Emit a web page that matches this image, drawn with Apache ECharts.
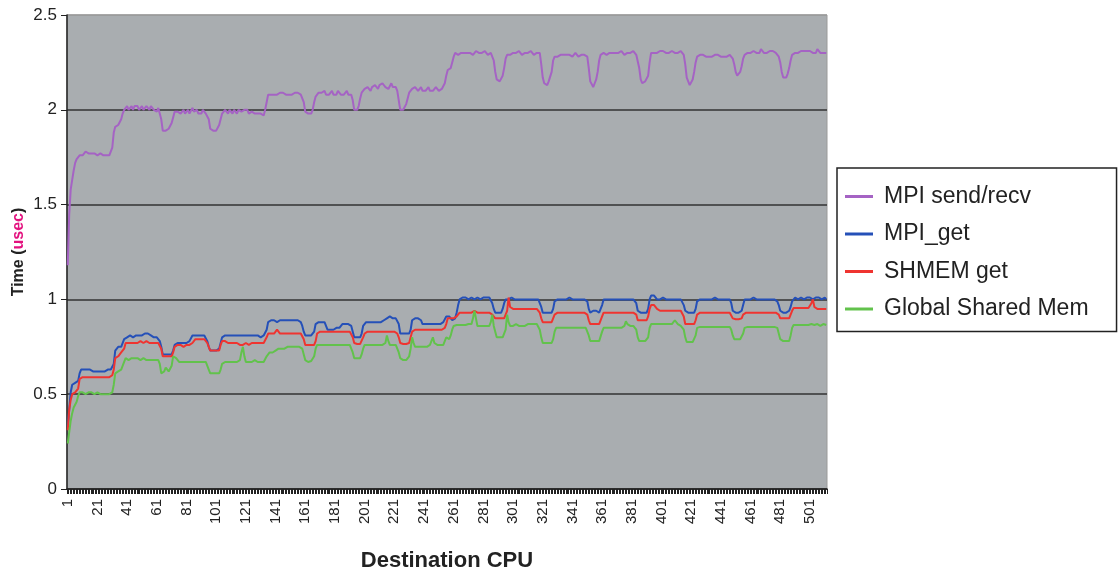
<!DOCTYPE html>
<html>
<head>
<meta charset="utf-8">
<script src="https://cdn.jsdelivr.net/npm/echarts@6/dist/echarts.min.js"></script>
<style>
html,body{margin:0;padding:0;background:#fff;}
#chart{width:1119px;height:571px;}
</style>
</head>
<body>
<div id="chart"></div>
<script>
// Destination CPU numbers 1..512
const cpus = Array.from({length: 512}, (_, i) => String(i + 1));

const seriesNames = ['MPI send/recv', 'MPI_get', 'SHMEM get', 'Global Shared Mem'];

const mpiSendRecv = [
1.18,1.45,1.58,1.63,1.68,1.72,1.74,1.75,1.76,1.77,1.76,1.77,1.78,1.79,1.77,1.76,
1.77,1.76,1.77,1.77,1.76,1.76,1.77,1.76,1.76,1.77,1.76,1.76,1.76,1.77,1.80,1.88,
1.91,1.92,1.92,1.93,1.95,1.98,2.00,2.01,2.02,2.00,2.01,2.02,2.00,2.02,2.01,2.02,
2.00,2.01,2.02,2.00,2.01,2.02,2.01,2.00,2.02,2.01,2.00,2.01,1.99,2.01,2.00,1.95,
1.89,1.88,1.89,1.88,1.90,1.89,1.93,1.96,1.99,1.98,1.99,2.00,1.98,1.99,2.00,1.98,
1.99,2.00,1.98,1.99,2.01,1.99,1.98,2.00,1.98,1.99,1.98,2.00,1.99,1.98,1.97,1.95,
1.90,1.90,1.89,1.88,1.89,1.90,1.92,1.95,1.98,1.99,2.00,1.99,1.98,2.00,1.99,1.98,
2.00,1.99,1.98,2.00,1.99,1.99,1.98,2.00,1.99,2.00,1.98,1.99,1.99,2.00,1.98,1.99,
1.98,1.97,1.98,1.98,1.97,2.00,2.04,2.08,2.09,2.08,2.09,2.08,2.09,2.08,2.09,2.09,
2.08,2.09,2.10,2.08,2.09,2.08,2.09,2.08,2.08,2.09,2.08,2.09,2.08,2.08,2.07,2.04,
1.99,1.98,1.98,1.97,1.98,2.00,2.04,2.07,2.08,2.09,2.08,2.09,2.08,2.10,2.08,2.09,
2.08,2.09,2.10,2.08,2.09,2.08,2.10,2.09,2.08,2.09,2.08,2.09,2.10,2.08,2.09,2.08,
2.05,2.00,1.99,2.00,2.02,2.06,2.09,2.10,2.11,2.10,2.12,2.11,2.10,2.12,2.11,2.13,
2.12,2.11,2.13,2.12,2.14,2.15,2.12,2.13,2.11,2.12,2.14,2.12,2.11,2.12,2.10,2.05,
2.00,1.99,2.00,2.01,2.03,2.06,2.09,2.10,2.11,2.10,2.12,2.11,2.10,2.11,2.12,2.10,
2.11,2.10,2.11,2.12,2.10,2.11,2.10,2.11,2.12,2.11,2.10,2.11,2.11,2.12,2.14,2.18,
2.21,2.20,2.22,2.25,2.28,2.30,2.30,2.29,2.30,2.30,2.31,2.30,2.29,2.30,2.31,2.30,
2.30,2.29,2.30,2.31,2.30,2.30,2.29,2.30,2.30,2.31,2.30,2.29,2.30,2.30,2.29,2.26,
2.20,2.16,2.15,2.15,2.16,2.18,2.22,2.27,2.29,2.30,2.29,2.30,2.30,2.29,2.30,2.30,
2.31,2.30,2.29,2.30,2.30,2.29,2.30,2.30,2.31,2.30,2.29,2.30,2.30,2.29,2.30,2.24,
2.17,2.14,2.15,2.13,2.15,2.16,2.20,2.26,2.28,2.29,2.28,2.29,2.29,2.28,2.29,2.30,
2.29,2.28,2.29,2.29,2.28,2.29,2.30,2.29,2.28,2.29,2.29,2.28,2.29,2.29,2.28,2.22,
2.15,2.14,2.12,2.14,2.16,2.20,2.26,2.29,2.29,2.30,2.30,2.29,2.30,2.30,2.29,2.30,
2.31,2.30,2.29,2.30,2.30,2.31,2.30,2.29,2.30,2.30,2.29,2.30,2.30,2.31,2.30,2.29,
2.30,2.22,2.16,2.14,2.14,2.15,2.16,2.18,2.25,2.30,2.31,2.30,2.31,2.30,2.30,2.31,
2.30,2.31,2.30,2.30,2.31,2.30,2.30,2.31,2.30,2.30,2.31,2.30,2.30,2.31,2.30,2.29,
2.24,2.17,2.15,2.13,2.14,2.16,2.20,2.25,2.28,2.28,2.29,2.28,2.29,2.28,2.28,2.29,
2.28,2.29,2.28,2.28,2.29,2.28,2.29,2.28,2.28,2.29,2.28,2.29,2.28,2.28,2.29,2.28,
2.27,2.24,2.20,2.18,2.19,2.20,2.23,2.27,2.29,2.30,2.30,2.31,2.30,2.30,2.31,2.30,
2.30,2.31,2.30,2.32,2.31,2.30,2.31,2.30,2.30,2.31,2.30,2.31,2.30,2.30,2.29,2.28,
2.25,2.20,2.17,2.18,2.17,2.19,2.22,2.26,2.29,2.30,2.30,2.31,2.30,2.30,2.31,2.30,
2.31,2.30,2.31,2.30,2.31,2.31,2.30,2.31,2.30,2.32,2.31,2.30,2.31,2.30,2.31,2.30
];

const mpiGet = [
0.33,0.42,0.51,0.55,0.56,0.56,0.56,0.57,0.61,0.63,0.63,0.63,0.62,0.63,0.63,0.63,
0.62,0.62,0.62,0.62,0.62,0.62,0.62,0.62,0.62,0.62,0.63,0.63,0.63,0.63,0.64,0.66,
0.73,0.74,0.75,0.74,0.75,0.76,0.79,0.80,0.80,0.80,0.81,0.80,0.80,0.80,0.81,0.80,
0.81,0.81,0.81,0.81,0.82,0.83,0.82,0.81,0.81,0.81,0.80,0.80,0.80,0.79,0.78,0.75,
0.71,0.71,0.71,0.71,0.71,0.71,0.71,0.73,0.76,0.77,0.77,0.77,0.77,0.77,0.77,0.77,
0.77,0.78,0.78,0.79,0.81,0.81,0.81,0.81,0.81,0.81,0.81,0.81,0.81,0.80,0.78,0.75,
0.73,0.73,0.73,0.73,0.73,0.73,0.74,0.77,0.80,0.81,0.81,0.81,0.81,0.81,0.81,0.81,
0.81,0.81,0.81,0.81,0.81,0.81,0.81,0.81,0.81,0.81,0.81,0.81,0.81,0.81,0.81,0.81,
0.81,0.80,0.80,0.81,0.81,0.81,0.84,0.88,0.88,0.89,0.88,0.89,0.89,0.88,0.89,0.89,
0.89,0.89,0.88,0.89,0.89,0.89,0.88,0.89,0.89,0.89,0.88,0.89,0.89,0.88,0.86,0.83,
0.81,0.81,0.81,0.81,0.81,0.81,0.83,0.87,0.88,0.88,0.88,0.88,0.88,0.88,0.86,0.84,
0.84,0.84,0.84,0.84,0.84,0.85,0.84,0.85,0.86,0.87,0.86,0.87,0.86,0.87,0.86,0.86,
0.83,0.80,0.80,0.80,0.80,0.80,0.82,0.86,0.87,0.88,0.87,0.88,0.87,0.88,0.87,0.88,
0.87,0.88,0.87,0.88,0.88,0.89,0.90,0.90,0.90,0.91,0.90,0.90,0.90,0.90,0.90,0.87,
0.82,0.82,0.82,0.82,0.82,0.82,0.82,0.84,0.89,0.90,0.90,0.90,0.90,0.90,0.89,0.87,
0.87,0.87,0.87,0.87,0.87,0.87,0.87,0.87,0.87,0.87,0.87,0.87,0.87,0.88,0.89,0.91,
0.91,0.91,0.90,0.89,0.89,0.90,0.93,0.97,1.00,1.00,1.01,1.01,1.01,1.01,1.00,1.01,
1.01,1.01,1.00,1.01,1.01,1.01,1.00,1.01,1.01,1.00,1.01,1.01,1.01,1.00,0.98,0.95,
0.93,0.93,0.93,0.92,0.93,0.95,0.98,1.00,1.00,1.00,1.00,1.01,1.00,1.00,1.00,1.00,
1.00,1.00,1.00,1.00,1.01,1.00,1.00,1.00,1.00,1.00,1.00,1.00,1.00,1.00,0.99,0.96,
0.93,0.93,0.93,0.93,0.93,0.93,0.93,0.95,0.99,1.00,1.00,1.00,1.00,1.01,1.00,1.00,
1.00,1.00,1.01,1.00,1.00,1.00,1.00,1.00,1.00,1.00,1.00,1.01,1.00,1.00,0.99,0.95,
0.93,0.93,0.94,0.95,0.94,0.93,0.93,0.94,0.97,1.00,1.00,1.00,1.00,1.00,1.01,1.00,
1.00,1.00,1.00,1.00,1.00,1.00,1.01,1.00,1.00,1.00,1.00,1.00,1.00,1.00,1.00,0.98,
0.94,0.93,0.93,0.93,0.93,0.93,0.93,0.95,1.00,1.02,1.02,1.02,1.01,1.00,1.00,1.00,
1.00,1.01,1.00,1.00,1.00,1.00,1.00,1.00,1.00,1.00,1.00,1.00,1.00,1.00,0.99,0.97,
0.94,0.93,0.93,0.93,0.93,0.93,0.93,0.95,0.99,1.00,1.00,1.00,1.00,1.01,1.00,1.00,
1.00,1.00,1.00,1.00,1.01,1.00,1.00,1.00,1.00,1.00,1.00,1.00,1.00,1.00,1.00,0.98,
0.94,0.935,0.93,0.93,0.93,0.94,0.94,0.97,1.00,1.00,1.00,1.00,1.00,1.00,1.01,1.00,
1.00,1.00,1.00,1.00,1.00,1.01,1.00,1.00,1.00,1.00,1.00,1.00,1.00,1.00,0.99,0.97,
0.94,0.93,0.93,0.94,0.93,0.93,0.94,0.96,0.99,1.00,1.01,1.01,1.00,1.01,1.01,1.01,
1.00,1.01,1.01,1.00,1.01,1.01,1.00,1.01,1.01,1.00,1.01,1.01,1.00,1.01,1.01,1.00
];

const shmemGet = [
0.31,0.42,0.47,0.50,0.51,0.51,0.51,0.53,0.58,0.59,0.59,0.59,0.59,0.59,0.59,0.59,
0.59,0.59,0.59,0.58,0.59,0.59,0.59,0.59,0.59,0.59,0.59,0.59,0.59,0.59,0.60,0.63,
0.69,0.70,0.70,0.71,0.72,0.72,0.74,0.77,0.77,0.77,0.78,0.77,0.77,0.77,0.78,0.77,
0.77,0.78,0.77,0.77,0.78,0.78,0.77,0.77,0.78,0.77,0.77,0.77,0.77,0.77,0.76,0.74,
0.70,0.70,0.70,0.70,0.70,0.70,0.70,0.72,0.75,0.76,0.76,0.75,0.76,0.76,0.75,0.76,
0.76,0.76,0.76,0.77,0.77,0.78,0.79,0.79,0.79,0.79,0.79,0.79,0.79,0.78,0.77,0.75,
0.73,0.73,0.73,0.73,0.73,0.73,0.73,0.76,0.78,0.79,0.78,0.78,0.77,0.77,0.77,0.77,
0.77,0.77,0.77,0.76,0.76,0.76,0.76,0.76,0.77,0.76,0.76,0.76,0.77,0.77,0.77,0.77,
0.77,0.77,0.77,0.77,0.77,0.78,0.80,0.82,0.82,0.82,0.83,0.82,0.83,0.84,0.84,0.82,
0.82,0.82,0.82,0.82,0.82,0.82,0.82,0.82,0.82,0.82,0.82,0.82,0.82,0.82,0.81,0.79,
0.76,0.76,0.76,0.76,0.76,0.76,0.76,0.78,0.82,0.83,0.83,0.83,0.83,0.83,0.83,0.83,
0.83,0.83,0.83,0.83,0.83,0.83,0.83,0.83,0.83,0.83,0.83,0.83,0.83,0.83,0.83,0.82,
0.80,0.77,0.765,0.765,0.765,0.765,0.77,0.80,0.82,0.83,0.83,0.83,0.83,0.83,0.83,0.83,
0.83,0.83,0.83,0.83,0.83,0.83,0.83,0.84,0.83,0.83,0.83,0.83,0.83,0.83,0.82,0.80,
0.77,0.765,0.765,0.765,0.765,0.765,0.77,0.80,0.83,0.84,0.84,0.84,0.84,0.84,0.84,0.84,
0.84,0.84,0.84,0.84,0.84,0.84,0.84,0.84,0.84,0.84,0.84,0.84,0.84,0.84,0.85,0.87,
0.90,0.90,0.90,0.90,0.90,0.90,0.91,0.92,0.93,0.93,0.93,0.93,0.93,0.93,0.93,0.93,
0.93,0.93,0.94,0.93,0.93,0.93,0.93,0.93,0.93,0.93,0.93,0.93,0.93,0.93,0.92,0.91,
0.90,0.90,0.90,0.90,0.90,0.90,0.90,0.90,0.94,1.01,0.96,0.95,0.95,0.95,0.95,0.95,
0.95,0.95,0.95,0.95,0.95,0.95,0.95,0.95,0.95,0.95,0.95,0.95,0.95,0.95,0.93,0.90,
0.88,0.88,0.88,0.88,0.88,0.88,0.88,0.89,0.92,0.93,0.93,0.93,0.93,0.93,0.93,0.93,
0.93,0.93,0.93,0.93,0.93,0.93,0.93,0.93,0.93,0.93,0.93,0.93,0.93,0.93,0.92,0.89,
0.87,0.87,0.87,0.87,0.87,0.87,0.87,0.88,0.91,0.93,0.93,0.93,0.93,0.93,0.93,0.93,
0.93,0.93,0.93,0.93,0.93,0.93,0.93,0.93,0.93,0.93,0.93,0.93,0.93,0.93,0.93,0.92,
0.89,0.89,0.89,0.89,0.89,0.89,0.89,0.91,0.95,0.97,0.97,0.97,0.96,0.95,0.94,0.94,
0.94,0.94,0.94,0.94,0.94,0.94,0.94,0.94,0.94,0.94,0.94,0.94,0.94,0.94,0.93,0.91,
0.87,0.87,0.87,0.87,0.87,0.87,0.87,0.89,0.92,0.93,0.93,0.93,0.93,0.93,0.93,0.93,
0.93,0.93,0.93,0.93,0.93,0.93,0.93,0.93,0.93,0.93,0.93,0.93,0.93,0.93,0.93,0.92,
0.90,0.895,0.895,0.895,0.895,0.895,0.90,0.92,0.93,0.93,0.93,0.93,0.93,0.93,0.93,0.93,
0.93,0.93,0.93,0.93,0.93,0.93,0.93,0.93,0.93,0.93,0.93,0.93,0.93,0.93,0.93,0.92,
0.90,0.90,0.90,0.90,0.90,0.90,0.90,0.92,0.94,0.955,0.955,0.955,0.955,0.955,0.955,0.955,
0.955,0.955,0.955,0.955,0.96,0.98,1.00,0.96,0.95,0.95,0.95,0.95,0.95,0.95,0.95,0.95
];

const globalSharedMem = [
0.24,0.30,0.36,0.40,0.43,0.44,0.46,0.49,0.51,0.50,0.51,0.51,0.50,0.51,0.51,0.50,
0.51,0.51,0.50,0.51,0.51,0.51,0.50,0.51,0.50,0.50,0.50,0.50,0.50,0.50,0.51,0.55,
0.61,0.61,0.62,0.63,0.63,0.64,0.67,0.69,0.69,0.68,0.69,0.69,0.69,0.69,0.69,0.69,
0.69,0.68,0.69,0.69,0.68,0.68,0.69,0.68,0.68,0.68,0.68,0.68,0.68,0.68,0.66,0.61,
0.61,0.62,0.64,0.63,0.62,0.61,0.65,0.70,0.71,0.69,0.68,0.67,0.67,0.67,0.67,0.67,
0.67,0.67,0.67,0.67,0.67,0.67,0.67,0.67,0.67,0.67,0.67,0.67,0.67,0.67,0.66,0.63,
0.61,0.61,0.61,0.61,0.61,0.61,0.61,0.63,0.66,0.67,0.67,0.67,0.67,0.67,0.67,0.67,
0.67,0.67,0.67,0.67,0.68,0.72,0.75,0.70,0.67,0.67,0.67,0.67,0.67,0.67,0.68,0.67,
0.67,0.67,0.67,0.67,0.67,0.68,0.70,0.71,0.72,0.72,0.72,0.73,0.73,0.73,0.74,0.74,
0.74,0.74,0.74,0.75,0.75,0.75,0.75,0.75,0.75,0.75,0.75,0.75,0.75,0.75,0.74,0.71,
0.68,0.675,0.67,0.67,0.675,0.68,0.70,0.74,0.76,0.76,0.76,0.76,0.76,0.76,0.76,0.76,
0.76,0.76,0.76,0.76,0.76,0.76,0.76,0.76,0.76,0.76,0.76,0.76,0.76,0.76,0.76,0.75,
0.72,0.69,0.69,0.69,0.69,0.69,0.71,0.74,0.76,0.76,0.76,0.76,0.76,0.76,0.76,0.76,
0.76,0.76,0.76,0.76,0.76,0.76,0.77,0.81,0.78,0.76,0.76,0.76,0.76,0.76,0.75,0.72,
0.69,0.68,0.68,0.68,0.68,0.68,0.70,0.74,0.80,0.77,0.75,0.75,0.75,0.75,0.75,0.75,
0.75,0.75,0.75,0.75,0.76,0.78,0.80,0.77,0.76,0.76,0.76,0.76,0.76,0.76,0.78,0.80,
0.80,0.79,0.81,0.84,0.86,0.865,0.865,0.865,0.865,0.865,0.865,0.87,0.865,0.865,0.87,0.865,
0.87,0.90,0.94,0.90,0.86,0.86,0.86,0.86,0.86,0.86,0.86,0.86,0.86,0.88,0.92,0.86,
0.83,0.80,0.80,0.80,0.80,0.80,0.80,0.84,0.92,0.88,0.86,0.86,0.86,0.86,0.87,0.86,
0.86,0.87,0.86,0.87,0.86,0.87,0.87,0.86,0.87,0.87,0.87,0.87,0.87,0.86,0.84,0.80,
0.77,0.77,0.77,0.77,0.77,0.77,0.77,0.79,0.83,0.85,0.85,0.85,0.85,0.85,0.85,0.85,
0.85,0.85,0.85,0.85,0.85,0.85,0.85,0.85,0.85,0.85,0.85,0.85,0.85,0.85,0.84,0.81,
0.78,0.78,0.78,0.78,0.78,0.78,0.78,0.79,0.83,0.85,0.85,0.85,0.85,0.85,0.85,0.85,
0.85,0.85,0.85,0.85,0.85,0.85,0.85,0.86,0.885,0.87,0.86,0.86,0.86,0.86,0.86,0.84,
0.80,0.78,0.78,0.78,0.78,0.78,0.78,0.80,0.85,0.87,0.87,0.87,0.87,0.87,0.87,0.87,
0.87,0.87,0.87,0.87,0.87,0.87,0.87,0.87,0.88,0.89,0.90,0.87,0.86,0.86,0.86,0.84,
0.80,0.775,0.775,0.775,0.775,0.775,0.78,0.81,0.85,0.855,0.855,0.855,0.855,0.855,0.855,0.855,
0.855,0.855,0.855,0.855,0.855,0.855,0.855,0.855,0.855,0.855,0.855,0.855,0.855,0.855,0.855,0.84,
0.81,0.79,0.79,0.79,0.79,0.79,0.79,0.82,0.85,0.855,0.855,0.855,0.855,0.855,0.855,0.855,
0.855,0.855,0.855,0.855,0.855,0.855,0.855,0.855,0.855,0.855,0.855,0.855,0.855,0.855,0.85,0.82,
0.79,0.78,0.78,0.78,0.78,0.78,0.78,0.81,0.85,0.865,0.865,0.865,0.865,0.865,0.865,0.865,
0.865,0.865,0.87,0.865,0.865,0.87,0.865,0.865,0.865,0.87,0.865,0.86,0.865,0.87,0.865,0.865
];

const seriesColors = ['#a563c4', '#2550b8', '#ef3430', '#62c24c'];
const yTicks = [0, 0.5, 1, 1.5, 2, 2.5];

const chart = echarts.init(document.getElementById('chart'), null, {renderer: 'canvas'});
const values = [mpiSendRecv, mpiGet, shmemGet, globalSharedMem];
const FONT = '"Liberation Sans", Arial, sans-serif';

chart.setOption({
  animation: false,
  backgroundColor: '#ffffff',
  textStyle: {fontFamily: FONT},
  grid: {
    left: 67, top: 15, width: 760, height: 474,
    containLabel: false,
    outerBoundsMode: 'none',
    show: true, backgroundColor: '#a9adb0', borderColor: '#9a9a9a', borderWidth: 1
  },
  legend: {
    orient: 'vertical',
    left: 837, top: 168,
    padding: [17, 28, 11, 8],
    itemGap: 14.5,
    itemWidth: 28, itemHeight: 3,
    icon: 'rect',
    borderColor: '#222', borderWidth: 1.5,
    backgroundColor: '#fff',
    textStyle: {fontSize: 23, color: '#222', fontFamily: FONT, lineHeight: 23, padding: [0, 0, 0, 6]},
    data: seriesNames
  },
  xAxis: {
    type: 'category',
    data: cpus,
    boundaryGap: true,
    name: 'Destination CPU',
    nameLocation: 'middle',
    nameGap: 61,
    nameMoveOverlap: false,
    nameTextStyle: {fontSize: 22, fontWeight: 'bold', color: '#222', fontFamily: FONT},
    axisLine: {show: true, lineStyle: {color: '#222', width: 1.5}},
    axisTick: {show: true, interval: 0, length: 5, lineStyle: {color: '#222', width: 1}},
    axisLabel: {interval: 19, rotate: 90, fontSize: 15, color: '#222', margin: 10, fontFamily: FONT},
    splitLine: {show: false}
  },
  yAxis: {
    type: 'value',
    min: yTicks[0], max: yTicks[yTicks.length - 1], interval: 0.5,
    name: '{b|Time (}{m|usec}{b|)}',
    nameLocation: 'middle',
    nameGap: 40,
    nameMoveOverlap: false,
    nameRotate: 90,
    nameTextStyle: {
      rich: {
        b: {fontSize: 16, fontWeight: 'bold', color: '#222', fontFamily: FONT},
        m: {fontSize: 16, fontWeight: 'bold', color: '#e3127f', fontFamily: FONT}
      }
    },
    axisLine: {show: true, lineStyle: {color: '#222', width: 1.5}},
    axisTick: {show: true, length: 6, lineStyle: {color: '#222'}},
    axisLabel: {fontSize: 17, color: '#222', margin: 10, fontFamily: FONT},
    splitLine: {show: true, lineStyle: {color: ['#333', '#333', '#333', '#333', '#333', '#9a9a9a'], width: 1.5}}
  },
  series: seriesNames.map((n, k) => ({
    name: n,
    type: 'line',
    data: values[k],
    showSymbol: false,
    symbol: 'none',
    lineStyle: {width: 2, color: seriesColors[k]},
    itemStyle: {color: seriesColors[k]},
    z: 3 + k
  }))
});
</script>
</body>
</html>
